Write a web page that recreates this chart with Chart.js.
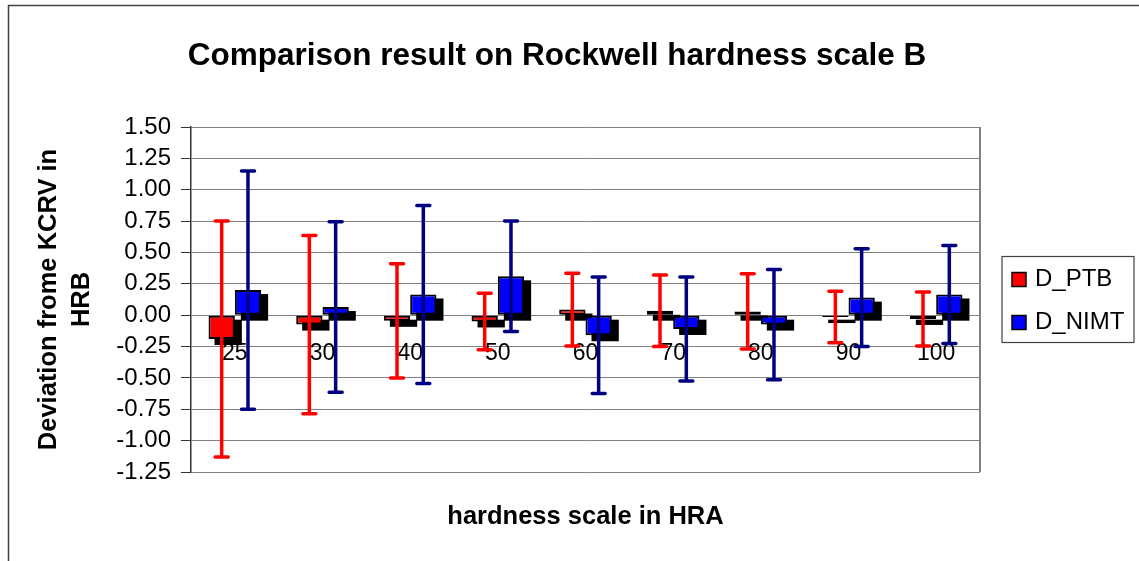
<!DOCTYPE html>
<html>
<head>
<meta charset="utf-8">
<script src="https://cdn.jsdelivr.net/npm/chart.js@4.4.1/dist/chart.umd.min.js"></script>
<style>
  html, body { margin: 0; padding: 0; background: #fff; }
  canvas { display: block; }
</style>
</head>
<body>
<canvas id="hrbChart" width="1139" height="561"></canvas>
<script>
// hardness levels (HRA) on the category axis
const categories = ['25', '30', '40', '50', '60', '70', '80', '90', '100'];

// deviations from KCRV in HRB
const dPTB  = [-0.19, -0.075, -0.045, -0.05, 0.045, 0.035, 0.03, -0.015, -0.03];
const dNIMT = [0.20, 0.065, 0.165, 0.31, -0.16, -0.11, -0.075, 0.14, 0.165];

// half-width of the uncertainty bars
const uPTB  = [0.94, 0.71, 0.455, 0.225, 0.29, 0.285, 0.30, 0.205, 0.215];
const uNIMT = [0.95, 0.68, 0.71, 0.44, 0.465, 0.415, 0.44, 0.39, 0.39];

const yMin = -1.25;
const yMax = 1.5;
const yStep = 0.25;

const FONT = '"Liberation Sans", Arial, sans-serif';
Chart.defaults.font.family = FONT;
Chart.defaults.color = '#000';

const chartTitle = 'Comparison result on Rockwell hardness scale B';

// white page + outer chart frame + title
const framePlugin = {
    id: 'frame',
    beforeDraw(chart) {
        const ctx = chart.ctx;
        ctx.save();
        ctx.fillStyle = '#fff';
        ctx.fillRect(0, 0, chart.width, chart.height);
        ctx.strokeStyle = '#404040';
        ctx.lineWidth = 1.5;
        ctx.strokeRect(8.5, 5.5, chart.width + 20, chart.height + 20);
        ctx.fillStyle = '#000';
        ctx.font = 'bold 31.5px ' + FONT;
        ctx.textAlign = 'center';
        ctx.textBaseline = 'middle';
        ctx.fillText(chartTitle, 557, 56);
        ctx.restore();
    }
};

// plot border, category labels at the zero line and the black bar shadows
const shadowPlugin = {
    id: 'barShadows',
    beforeDatasetsDraw(chart) {
        const ctx = chart.ctx;
        const area = chart.chartArea;
        const xs = chart.scales.x;
        const ys = chart.scales.y;
        ctx.save();
        ctx.strokeStyle = '#808080';
        ctx.lineWidth = 2;
        ctx.beginPath();
        ctx.moveTo(area.right, area.top);
        ctx.lineTo(area.right, area.bottom);
        ctx.stroke();

        ctx.fillStyle = '#000';
        ctx.font = '23px ' + FONT;
        ctx.textAlign = 'center';
        ctx.textBaseline = 'middle';
        const zero = ys.getPixelForValue(0);
        categories.forEach((c, i) => {
            ctx.fillText(c, xs.getPixelForValue(i), zero + 38);
        });

        chart.data.datasets.forEach((ds, di) => {
            chart.getDatasetMeta(di).data.forEach(bar => {
                const p = bar.getProps(['x', 'y', 'base', 'width'], true);
                const top = Math.min(p.y, p.base);
                const h = Math.abs(p.base - p.y);
                ctx.fillRect(p.x - p.width / 2 + 6, top + 4, p.width + 1, h + 2);
            });
        });
        ctx.restore();
    }
};

const errorBarPlugin = {
    id: 'errorBars',
    afterDatasetsDraw(chart) {
        const ctx = chart.ctx;
        const ys = chart.scales.y;
        chart.data.datasets.forEach((ds, di) => {
            const meta = chart.getDatasetMeta(di);
            ctx.save();
            ctx.strokeStyle = ds.errorColor;
            ctx.lineWidth = 3.5;
            ctx.lineCap = 'round';
            meta.data.forEach((bar, i) => {
                const v = ds.data[i];
                const e = ds.errors[i];
                const yTop = ys.getPixelForValue(v + e);
                const yBot = ys.getPixelForValue(v - e);
                ctx.beginPath();
                ctx.moveTo(bar.x, yTop);
                ctx.lineTo(bar.x, yBot);
                ctx.moveTo(bar.x - 6.5, yTop);
                ctx.lineTo(bar.x + 6.5, yTop);
                ctx.moveTo(bar.x - 6.5, yBot);
                ctx.lineTo(bar.x + 6.5, yBot);
                ctx.stroke();
            });
            ctx.restore();
        });
    }
};

// boxed legend to the right of the plot
const boxLegendPlugin = {
    id: 'boxLegend',
    afterDraw(chart) {
        const ctx = chart.ctx;
        const area = chart.chartArea;
        const left = area.right + 22;
        const width = 132;
        const height = 86;
        const top = (area.top + area.bottom) / 2 - height / 2;
        ctx.save();
        ctx.strokeStyle = '#404040';
        ctx.lineWidth = 1.2;
        ctx.strokeRect(left, top, width, height);
        ctx.font = '24px ' + FONT;
        ctx.textBaseline = 'middle';
        ctx.textAlign = 'left';
        chart.data.datasets.forEach((ds, i) => {
            const cy = top + 23 + i * 43;
            ctx.fillStyle = ds.backgroundColor;
            ctx.fillRect(left + 10, cy - 7, 14, 14);
            ctx.strokeStyle = '#000';
            ctx.lineWidth = 1.5;
            ctx.strokeRect(left + 10, cy - 7, 14, 14);
            ctx.fillStyle = '#000';
            ctx.fillText(ds.label, left + 33, cy);
        });
        ctx.restore();
    }
};

const ctx = document.getElementById('hrbChart').getContext('2d');
const hrbChart = new Chart(ctx, {
    type: 'bar',
    data: {
        labels: categories,
        datasets: [{
            label: 'D_PTB',
            data: dPTB,
            errors: uPTB,
            errorColor: '#ff0000',
            backgroundColor: '#ff0000',
            borderColor: '#000',
            borderWidth: 2,
            borderSkipped: false
        }, {
            label: 'D_NIMT',
            data: dNIMT,
            errors: uNIMT,
            errorColor: '#000080',
            backgroundColor: '#0000ff',
            borderColor: '#000',
            borderWidth: 2,
            borderSkipped: false
        }]
    },
    options: {
        responsive: false,
        animation: false,
        categoryPercentage: 0.6,
        barPercentage: 1.0,
        layout: {
            padding: { top: 127, left: 8, right: 159, bottom: 0 }
        },
        plugins: {
            legend: { display: false },
            title: { display: false },
            tooltip: { enabled: false }
        },
        scales: {
            x: {
                grid: { display: false },
                border: { display: false },
                ticks: { display: false },
                title: {
                    display: true,
                    text: 'hardness scale in HRA',
                    font: { size: 25.5, weight: 'bold' },
                    padding: { top: 0, bottom: 29 }
                },
                afterFit(scale) { scale.height = 89; }
            },
            y: {
                min: yMin,
                max: yMax,
                ticks: {
                    stepSize: yStep,
                    autoSkip: false,
                    padding: 10,
                    font: { size: 24 },
                    callback: v => v.toFixed(2)
                },
                grid: {
                    color: '#808080',
                    lineWidth: 1,
                    tickLength: 10,
                    tickColor: '#333'
                },
                border: { color: '#333', width: 1.5 },
                title: {
                    display: true,
                    text: ['Deviation frome KCRV in', 'HRB'],
                    font: { size: 25.5, weight: 'bold', lineHeight: 1.3 },
                    padding: { top: 24, bottom: 0 }
                },
                afterFit(scale) { scale.width = 183; }
            }
        }
    },
    plugins: [framePlugin, shadowPlugin, errorBarPlugin, boxLegendPlugin]
});
</script>
</body>
</html>
